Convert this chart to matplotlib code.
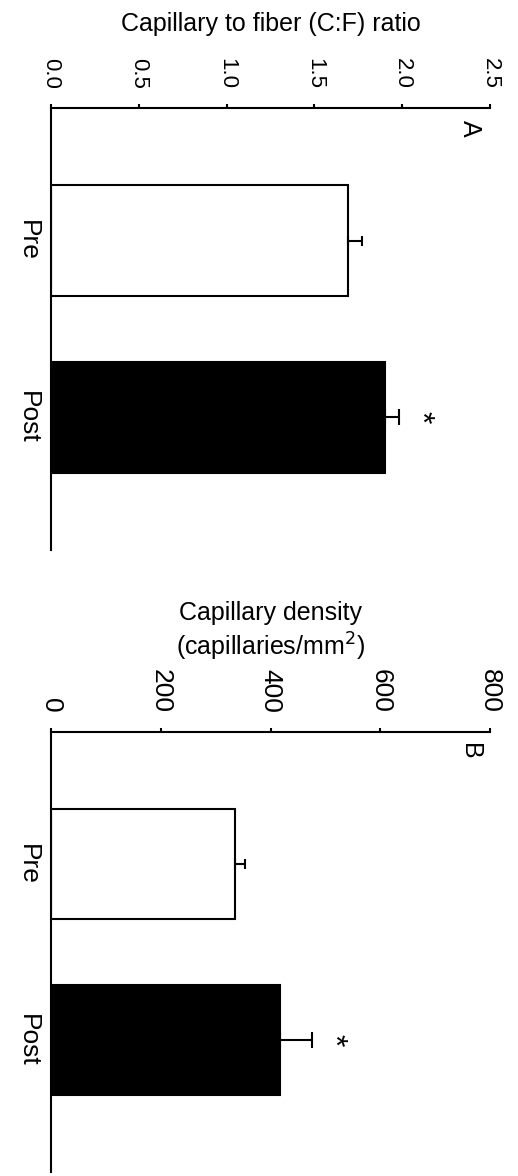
import matplotlib
matplotlib.use("Agg")
import matplotlib.pyplot as plt

plt.rcParams['font.family'] = ['Liberation Sans', 'DejaVu Sans']

groups = ["Pre", "Post"]
cf_ratio = [1.69, 1.90]
cf_sem = [0.08, 0.08]
cap_density = [336, 418]
cap_density_sem = [17, 58]
significant = [False, True]

fig = plt.figure(figsize=(5.18, 11.76), dpi=100)
W, H = 518, 1176


def panel(rect, values, errs, xmax, xstep, fmt, title, letter, tick_fs, cat_fs, labelpad):
    ax = fig.add_axes(rect)
    pos = [1, 2]
    colors = ['white', 'black']
    ax.barh(pos, values, height=0.63, color=colors, edgecolor='black', linewidth=1.5, zorder=2)
    caps = [3.8, 5.8]
    for p, v, e, c in zip(pos, values, errs, caps):
        ax.errorbar(v, p, xerr=[[0], [e]], fmt='none', ecolor='black', elinewidth=1.5,
                    capsize=c, capthick=1.5, zorder=3)
    for p, v, e, s in zip(pos, values, errs, significant):
        if s:
            ax.annotate('*', xy=(v + e, p), xytext=(15, 0), textcoords='offset points',
                        ha='center', va='center', rotation=-90, fontsize=23)

    ax.set_xlim(0, xmax)
    ax.set_ylim(2.75, 0.25)
    ticks = [i * xstep for i in range(int(round(xmax / xstep)) + 1)]
    ax.set_xticks(ticks)
    ax.set_xticklabels([fmt.format(t) for t in ticks], rotation=-90, fontsize=tick_fs)
    ax.xaxis.tick_top()
    ax.xaxis.set_label_position('top')
    ax.tick_params(axis='x', length=3, width=1.5, pad=11)
    ax.set_yticks(pos)
    ax.set_yticklabels(groups, rotation=-90, fontsize=cat_fs, va='center')
    ax.tick_params(axis='y', length=0, pad=8)
    ax.set_xlabel(title, fontsize=18, labelpad=labelpad, linespacing=1.25)
    for side in ['right', 'bottom']:
        ax.spines[side].set_visible(False)
    for side in ['top', 'left']:
        ax.spines[side].set_linewidth(1.5)
    ax.text(0.955, 0.955, letter, transform=ax.transAxes, rotation=-90,
            ha='center', va='center', fontsize=18)
    return ax


rect_a = [51 / W, 1 - 550 / H, 439 / W, 442 / H]
rect_b = [51 / W, 1 - 1172 / H, 439 / W, 440 / H]

panel(rect_a, cf_ratio, cf_sem, 2.5, 0.5, "{:.1f}",
      "Capillary to fiber (C:F) ratio", "A", 16, 19, 19)
panel(rect_b, cap_density, cap_density_sem, 800, 200, "{:.0f}",
      "Capillary density\n(capillaries/mm$^2$)", "B", 19, 19, 9)

fig.savefig("out.png", dpi=100)
